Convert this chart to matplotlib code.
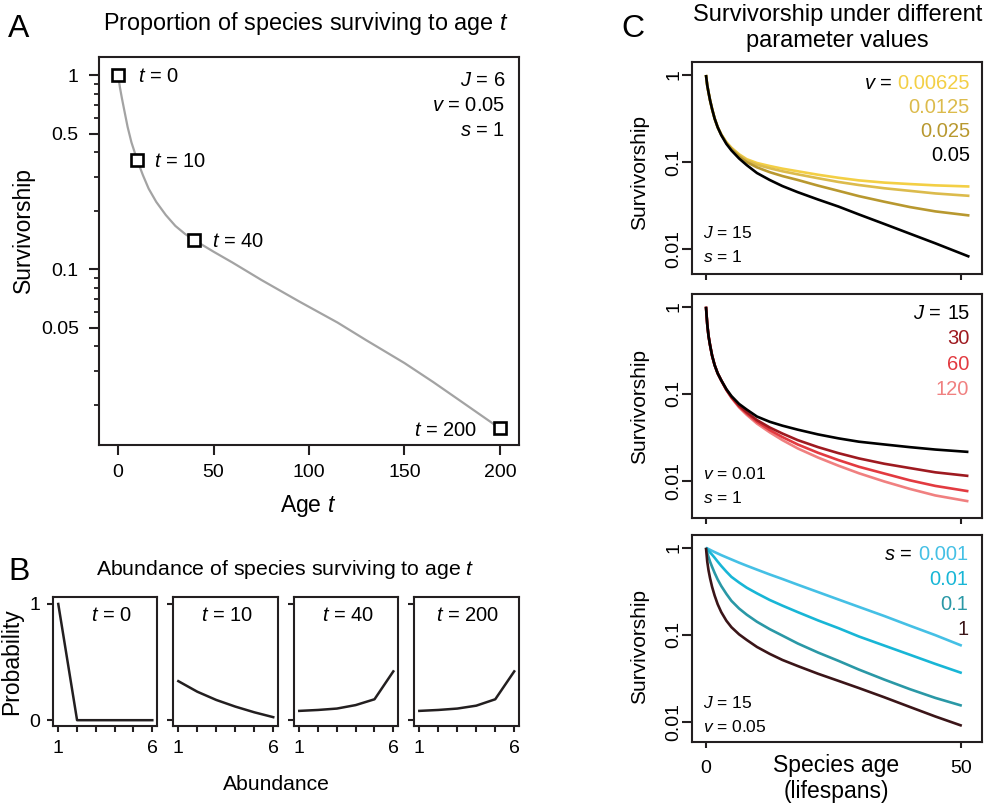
import matplotlib
matplotlib.use("Agg")
import matplotlib.pyplot as plt
from matplotlib.ticker import FixedLocator, LogLocator, NullFormatter, NullLocator

plt.rcParams['font.family'] = 'Liberation Sans'
plt.rcParams['mathtext.fontset'] = 'custom'
plt.rcParams['mathtext.rm'] = 'Liberation Sans'
plt.rcParams['mathtext.it'] = 'Liberation Sans:italic'

W, H = 987, 807
INK = '#231f20'

# ---- panel A: survivorship curve (J=6, v=0.05, s=1)
age_a = [0, 1, 2, 3.5, 5, 7, 10, 13, 16, 20, 25, 30, 35, 40, 50, 60, 75, 95,
         115, 130, 150, 165, 180, 200]
surv_a = [1, 0.86, 0.76, 0.64, 0.54, 0.45, 0.365, 0.305, 0.26, 0.222, 0.19, 0.167,
          0.152, 0.141, 0.123, 0.108, 0.088, 0.068, 0.053, 0.043, 0.0328, 0.0262,
          0.0207, 0.0151]
mark_age = [0, 10, 40, 200]
mark_surv = [1, 0.365, 0.141, 0.0151]
params_a = ['$J$ = 6', '$v$ = 0.05', '$s$ = 1']

# ---- panel B: abundance distributions at the marked ages
abundance = [1, 2, 3, 4, 5, 6]
prob_ages = [0, 10, 40, 200]
prob = [
    [1.0, 0.0, 0.0, 0.0, 0.0, 0.0],
    [0.336, 0.245, 0.174, 0.117, 0.068, 0.026],
    [0.08, 0.088, 0.10, 0.13, 0.18, 0.42],
    [0.08, 0.088, 0.10, 0.125, 0.18, 0.42],
]

# ---- panel C1: varying v (J=15, s=1)
age_c1 = [0, 0.25, 0.5, 0.8, 1.2, 1.7, 2.3, 3, 4, 5, 6.5, 8, 10, 12.5, 15, 18, 22,
          26, 30, 35, 40, 45, 51.7]
v_labels = ['0.00625', '0.0125', '0.025', '0.05']
surv_v = [
    [1, 0.759, 0.631, 0.513, 0.407, 0.316, 0.251, 0.207, 0.169, 0.146, 0.123, 0.108,
     0.0977, 0.0902, 0.0841, 0.0785, 0.0716, 0.0661, 0.0617, 0.0582, 0.056, 0.0541, 0.0525],
    [1, 0.759, 0.631, 0.513, 0.407, 0.316, 0.251, 0.207, 0.168, 0.145, 0.12, 0.105,
     0.0933, 0.0851, 0.0785, 0.0724, 0.0653, 0.0592, 0.0546, 0.0501, 0.0468, 0.0437, 0.041],
    [1, 0.759, 0.631, 0.513, 0.407, 0.316, 0.251, 0.207, 0.166, 0.141, 0.116, 0.1,
     0.0871, 0.0767, 0.0692, 0.0624, 0.0537, 0.0468, 0.0407, 0.0351, 0.0305, 0.0272, 0.0244],
    [1, 0.759, 0.631, 0.513, 0.407, 0.316, 0.251, 0.204, 0.162, 0.136, 0.11, 0.0923,
     0.075, 0.0624, 0.0531, 0.0452, 0.0372, 0.0309, 0.0251, 0.0195, 0.0151, 0.0117, 0.0082],
]

# ---- panel C2: varying J (v=0.01, s=1)
age_c2 = [0, 0.25, 0.5, 0.8, 1.2, 1.7, 2.3, 3, 4, 5, 6.5, 8, 10, 12.5, 15, 18, 22,
          26, 30, 35, 40, 45, 51.5]
J_labels = ['15', '30', '60', '120']
surv_J = [
    [1, 0.631, 0.462, 0.363, 0.275, 0.214, 0.172, 0.143, 0.1135, 0.0944, 0.0767, 0.0661,
     0.055, 0.0479, 0.0432, 0.0389, 0.0343, 0.0309, 0.0283, 0.0263, 0.0245, 0.023, 0.0216],
    [1, 0.631, 0.462, 0.363, 0.275, 0.214, 0.172, 0.143, 0.112, 0.0923, 0.0733, 0.0617,
     0.0501, 0.0412, 0.0351, 0.0295, 0.0245, 0.0209, 0.0182, 0.0158, 0.0141, 0.0126, 0.01145],
    [1, 0.631, 0.462, 0.363, 0.275, 0.214, 0.172, 0.143, 0.1117, 0.0912, 0.0716, 0.0596,
     0.0479, 0.0385, 0.032, 0.0263, 0.0211, 0.0174, 0.0146, 0.0122, 0.0102, 0.0088, 0.00764],
    [1, 0.631, 0.462, 0.363, 0.275, 0.214, 0.172, 0.143, 0.111, 0.0902, 0.07, 0.0575,
     0.0457, 0.0363, 0.0295, 0.0237, 0.0186, 0.015, 0.0123, 0.00989, 0.00813, 0.00684, 0.00586],
]

# ---- panel C3: varying s (J=15, v=0.05)
age_c3 = [0, 0.25, 0.5, 0.8, 1.2, 1.7, 2.3, 3, 4, 5, 6.5, 8, 10, 12.5, 15, 18, 22,
          26, 30, 35, 40, 45, 50.2]
s_labels = ['0.001', '0.01', '0.1', '1']
surv_s = [
    [1, 0.982, 0.966, 0.946, 0.92, 0.891, 0.859, 0.822, 0.776, 0.733, 0.673, 0.621,
     0.56, 0.493, 0.437, 0.376, 0.309, 0.254, 0.209, 0.164, 0.127, 0.0989, 0.0748],
    [1, 0.955, 0.923, 0.881, 0.832, 0.767, 0.692, 0.617, 0.531, 0.462, 0.398, 0.347,
     0.299, 0.251, 0.216, 0.182, 0.146, 0.119, 0.0955, 0.075, 0.0589, 0.0462, 0.0363],
    [1, 0.871, 0.785, 0.692, 0.603, 0.513, 0.431, 0.363, 0.295, 0.245, 0.2, 0.17,
     0.141, 0.116, 0.0977, 0.0794, 0.0624, 0.0501, 0.0398, 0.0305, 0.0237, 0.0188, 0.0153],
    [1, 0.692, 0.55, 0.447, 0.355, 0.282, 0.224, 0.182, 0.145, 0.122, 0.101, 0.0871,
     0.0724, 0.0603, 0.0513, 0.0437, 0.0356, 0.0295, 0.0244, 0.0191, 0.0148, 0.0115, 0.009],
]

col_v = ['#f3cf45', '#dcbb4c', '#b8982f', 'black']
col_J = ['black', '#9e1a20', '#e23a40', '#f08080']
col_s = ['#45c0e5', '#18b6d6', '#2a98a6', '#3b1518']

fig = plt.figure(figsize=(W / 100, H / 100), dpi=100)


def px_axes(x0, y0, x1, y1):
    return fig.add_axes([x0 / W, 1 - y1 / H, (x1 - x0) / W, (y1 - y0) / H])


def ftext(x, y, s, **kw):
    kw.setdefault('va', 'baseline')
    return fig.text(x / W, 1 - y / H, s, **kw)


def frame(ax):
    for sp in ax.spines.values():
        sp.set_linewidth(1.5)
        sp.set_color(INK)


# ================= A
axA = px_axes(99, 57, 519, 445)
frame(axA)
axA.plot(age_a, surv_a, color='#a3a3a3', lw=1.6, zorder=2)
axA.plot(mark_age, mark_surv, ls='none', marker='s', ms=9, mfc='white', mec='black',
         mew=1.9, clip_on=False, zorder=3)
axA.set_yscale('log')
axA.set_xlim(-10, 210)
axA.set_ylim(0.0124, 1.24)
axA.yaxis.set_major_locator(FixedLocator([0.05, 0.1, 0.5, 1]))
axA.set_yticklabels(['0.05', '0.1', '0.5', '1'])
axA.yaxis.set_minor_locator(LogLocator(subs=range(2, 10)))
axA.yaxis.set_minor_formatter(NullFormatter())
axA.set_xticks([0, 50, 100, 150, 200])
axA.tick_params(which='major', length=7.5, width=1.5, labelsize=14, color=INK)
axA.tick_params(axis='y', which='major', pad=7)
axA.tick_params(axis='x', which='major', pad=6.5)
axA.tick_params(which='minor', length=3.5, width=1.3, color=INK)

offsets = [(14, 'left'), (12, 'left'), (12.5, 'left'), (-16, 'right')]
for t, s, (dx, ha) in zip(mark_age, mark_surv, offsets):
    axA.annotate(f'$t$ = {t}', xy=(t, s), xytext=(dx, -5.2), textcoords='offset points',
                 ha=ha, va='baseline', fontsize=14.5)
for i, p in enumerate(params_a):
    ftext(505, 86 + 25 * i, p, ha='right', fontsize=14.5)

ftext(305.5, 30, 'Proportion of species surviving to age $t$', ha='center', fontsize=16.8)
ftext(308, 512, 'Age $t$', ha='center', fontsize=16.5)
ftext(23.5, 230, 'Survivorship', ha='center', va='center', rotation=90, fontsize=16.5)
ftext(8, 37, 'A', fontsize=23)

# ================= B
b_boxes = [(53, 157), (173, 278), (294, 398), (414, 519)]
b_label_x = [0.56, 0.515, 0.515, 0.515]
for k, ((x0, x1), t, p) in enumerate(zip(b_boxes, prob_ages, prob)):
    ax = px_axes(x0, 597, x1, 726)
    frame(ax)
    ax.plot(abundance, p, color=INK, lw=1.8)
    ax.set_xlim(0.72, 6.25)
    ax.set_ylim(-0.05, 1.06)
    ax.set_xticks(abundance)
    ax.set_xticklabels(['1', '', '', '', '', '6'])
    ax.set_yticks([0, 1])
    if k == 0:
        ax.set_yticklabels(['0', '1'])
    else:
        ax.set_yticklabels([])
    ax.tick_params(length=4, width=1.5, labelsize=14, color=INK)
    ax.tick_params(axis='x', pad=6)
    ax.tick_params(axis='y', pad=5)
    ax.text(b_label_x[k], 0.815, f'$t$ = {t}', transform=ax.transAxes, ha='center',
            va='baseline', fontsize=14.5)

ftext(285.5, 575, 'Abundance of species surviving to age $t$', ha='center', fontsize=15.3)
ftext(276, 790.5, 'Abundance', ha='center', fontsize=15.2)
ftext(12, 662, 'Probability', ha='center', va='center', rotation=90, fontsize=16.5)
ftext(8, 580, 'B', fontsize=23)

# ================= C
c_boxes = [(61.7, 274, 1.42, 0.0052), (294, 517.7, 1.4, 0.0038), (535, 741.7, 1.4, 0.0059)]
c_sets = [(age_c1, surv_v, col_v, False), (age_c2, surv_J, col_J, True),
          (age_c3, surv_s, col_s, False)]
c_axes = []
for (y0, y1, top, bot), (ages, curves, cols, rev) in zip(c_boxes, c_sets):
    ax = px_axes(691.7, y0, 981.7, y1)
    frame(ax)
    order = list(range(len(curves)))
    if rev:
        order = order[::-1]
    for i in order:
        ax.plot(ages, curves[i], color=cols[i], lw=1.9, solid_capstyle='butt')
    ax.set_yscale('log')
    ax.set_ylim(bot, top)
    ax.set_xlim(-2.8, 54.1)
    ax.yaxis.set_major_locator(FixedLocator([0.01, 0.1, 1]))
    ax.set_yticklabels(['0.01', '0.1', '1'])
    ax.yaxis.set_minor_locator(NullLocator())
    ax.set_xticks([0, 50])
    ax.tick_params(axis='y', length=7.5, width=1.5, labelsize=14, pad=-1,
                   labelrotation=90, color=INK)
    ax.tick_params(axis='x', length=4, width=1.5, labelsize=14, pad=9, color=INK)
    for lab in ax.get_yticklabels():
        lab.set_va('center')
    c_axes.append(ax)

c_axes[0].set_xticklabels([])
c_axes[1].set_xticklabels([])

# coloured parameter keys: "v = " prefix in black before the first coloured value
key_specs = [
    ('$v$ =', v_labels, col_v, 970, 89.3, 24),
    ('$J$ =', J_labels, col_J, 969.3, 319.3, 25.2),
    ('$s$ =', s_labels, col_s, 968.3, 560, 25),
]
firsts = []
for prefix, labels, cols, xr, yb, dy in key_specs:
    for i, (lab, c) in enumerate(zip(labels, cols)):
        t = ftext(xr, yb + dy * i, lab, ha='right', color=c, fontsize=14.5)
        if i == 0:
            firsts.append(t)
fig.canvas.draw()
renderer = fig.canvas.get_renderer()
for (prefix, labels, cols, xr, yb, dy), t in zip(key_specs, firsts):
    bb = t.get_window_extent(renderer)
    ftext(bb.x0 - 5.5, yb, prefix, ha='right', fontsize=14.5)

corner = [
    (['$J$ = 15', '$s$ = 1'], 238.3),
    (['$v$ = 0.01', '$s$ = 1'], 479.3),
    (['$J$ = 15', '$v$ = 0.05'], 708.3),
]
for lines, yb in corner:
    for i, s in enumerate(lines):
        ftext(703.3, yb + 23.4 * i, s, ha='left', fontsize=12.5)

ys_lab = [172.5, 406.7, 646]
for y in ys_lab:
    ftext(640, y, 'Survivorship', ha='center', va='center', rotation=90, fontsize=15)

ftext(837.5, 20.7, 'Survivorship under different', ha='center', fontsize=17)
ftext(837.5, 46.7, 'parameter values', ha='center', fontsize=17)
ftext(836, 772.3, 'Species age', ha='center', fontsize=16.5)
ftext(836, 798.3, '(lifespans)', ha='center', fontsize=16.5)
ftext(621, 37, 'C', fontsize=23)

fig.savefig('out.png', dpi=100)
